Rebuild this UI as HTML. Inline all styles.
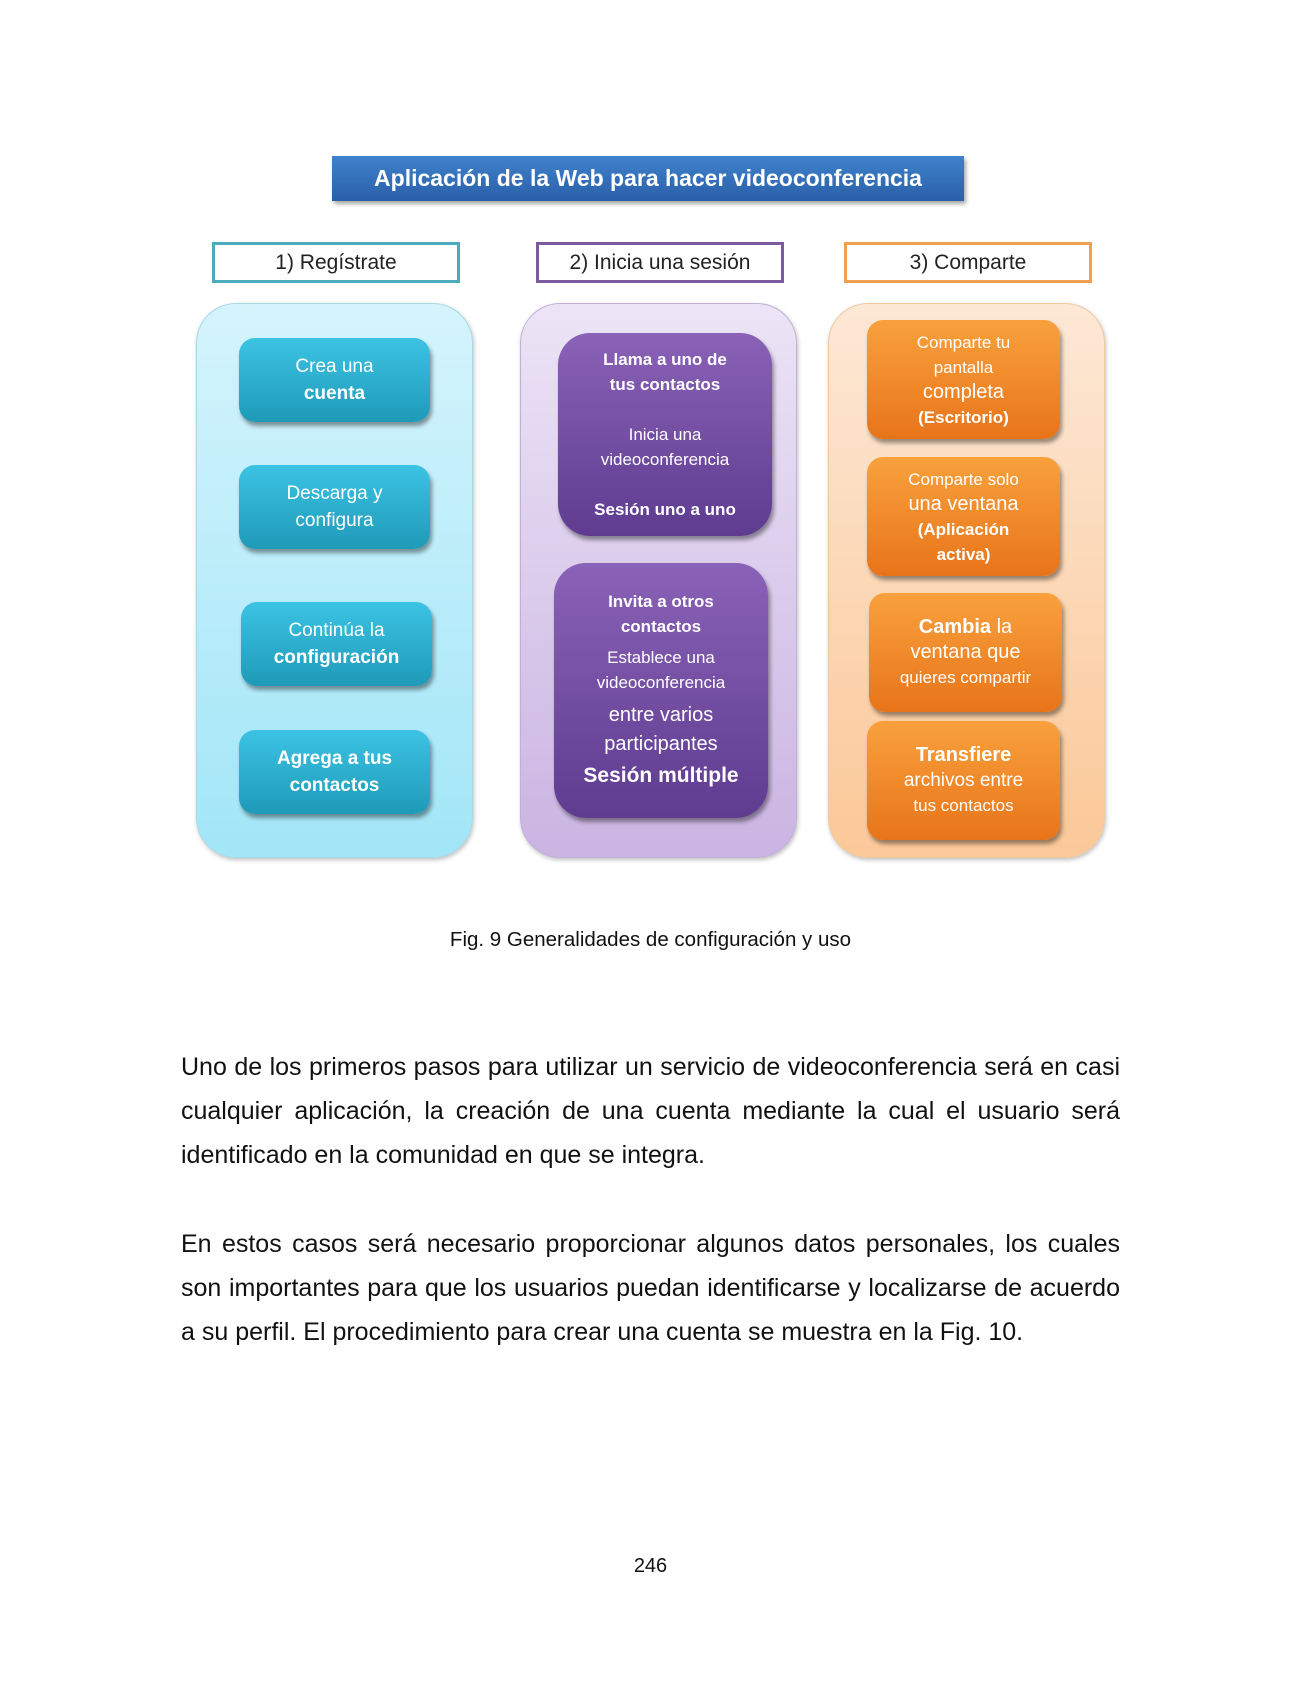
<!DOCTYPE html>
<html><head><meta charset="utf-8"><style>
body{margin:0;width:1301px;height:1684px;background:#fff;position:relative;font-family:"Liberation Sans",sans-serif;overflow:hidden}
.a{position:absolute;box-sizing:border-box}
.title{left:332px;top:156px;width:632px;height:45px;background:linear-gradient(#3f82cc,#2a5fa8);color:#fff;font-weight:bold;font-size:23px;text-align:center;line-height:45px;box-shadow:2px 3px 4px rgba(0,0,0,.35)}
.hd{top:242px;height:41px;width:248px;border:3px solid;text-align:center;font-size:21px;line-height:35px;color:#222;background:#fff}
.pan{top:303px;height:555px;width:277px;border-radius:40px;box-shadow:1px 2px 4px rgba(0,0,0,.25)}
.bx{display:flex;flex-direction:column;justify-content:center;align-items:center;text-align:center;color:#fff;border-radius:16px;font-size:19px;line-height:27px;box-shadow:2px 4px 4px rgba(0,0,0,.4)}
.b{background:linear-gradient(#3cc3e4,#1f9ab8);width:191px;height:84px;left:239px}
.p{background:linear-gradient(#8a62b8,#5e3c8f);border-radius:32px;font-size:17px;line-height:25px}
.o{background:linear-gradient(#f9a13d,#e8741a);width:193px;height:119px;left:867px;font-size:17px;line-height:25px}
b{font-weight:bold}
.txt{left:181px;width:939px;font-size:25px;line-height:44px;text-align:justify;color:#111}
</style></head><body>
<div class="a title">Aplicación de la Web para hacer videoconferencia</div>
<div class="a hd" style="left:212px;border-color:#4aabbd">1) Regístrate</div>
<div class="a hd" style="left:536px;border-color:#7b5a9e">2) Inicia una sesión</div>
<div class="a hd" style="left:844px;border-color:#f0a050">3) Comparte</div>
<div class="a pan" style="left:196px;background:linear-gradient(#d4f4fc,#a2e6f8);border:1px solid #a8d8e4"></div>
<div class="a pan" style="left:520px;background:linear-gradient(#ece4f6,#cbb4e2);border:1px solid #c0b0d8"></div>
<div class="a pan" style="left:828px;background:linear-gradient(#fde8d6,#fbc898);border:1px solid #f0c8a0"></div>

<div class="a bx b" style="top:338px"><div>Crea una<br><b>cuenta</b></div></div>
<div class="a bx b" style="top:465px"><div>Descarga y<br>configura</div></div>
<div class="a bx b" style="top:602px;left:241px"><div>Continúa la<br><b>configuración</b></div></div>
<div class="a bx b" style="top:730px"><div><b>Agrega a tus<br>contactos</b></div></div>

<div class="a bx p" style="left:558px;top:333px;width:214px;height:203px"><div><b>Llama a uno de<br>tus contactos</b><br><br>Inicia una<br>videoconferencia<br><br><b>Sesión uno a uno</b></div></div>
<div class="a bx p" style="left:554px;top:563px;width:214px;height:255px"><div><b>Invita a otros<br>contactos</b><div style="height:6px"></div>Establece una<br>videoconferencia<div style="font-size:20px;line-height:29px;margin-top:6px">entre varios<br>participantes</div><b style="font-size:21px;line-height:34px">Sesión múltiple</b></div></div>

<div class="a bx o" style="top:320px"><div>Comparte tu<br>pantalla<br><span style="font-size:20px">completa</span><br><b>(Escritorio)</b></div></div>
<div class="a bx o" style="top:457px"><div>Comparte solo<br><span style="font-size:20px">una ventana</span><br><b>(Aplicación<br>activa)</b></div></div>
<div class="a bx o" style="top:593px;left:869px"><div><span style="font-size:20px"><b>Cambia</b> la<br>ventana que</span><br>quieres compartir</div></div>
<div class="a bx o" style="top:721px"><div><b style="font-size:20px">Transfiere</b><br><span style="font-size:19px">archivos entre</span><br>tus contactos</div></div>

<div class="a" style="left:0;width:1301px;top:928px;text-align:center;font-size:20.5px;color:#111">Fig. 9 Generalidades de configuración y uso</div>
<div class="a txt" style="top:1045px">Uno de los primeros pasos para utilizar un servicio de videoconferencia será en casi cualquier aplicación, la creación de una cuenta mediante la cual el usuario será identificado en la comunidad en que se integra.</div>
<div class="a txt" style="top:1222px">En estos casos será necesario proporcionar algunos datos personales, los cuales son importantes para que los usuarios puedan identificarse y localizarse de acuerdo a su perfil. El procedimiento para crear una cuenta se muestra en la Fig. 10.</div>
<div class="a" style="left:0;width:1301px;top:1555px;text-align:center;font-size:20px;color:#111">246</div>
</body></html>
